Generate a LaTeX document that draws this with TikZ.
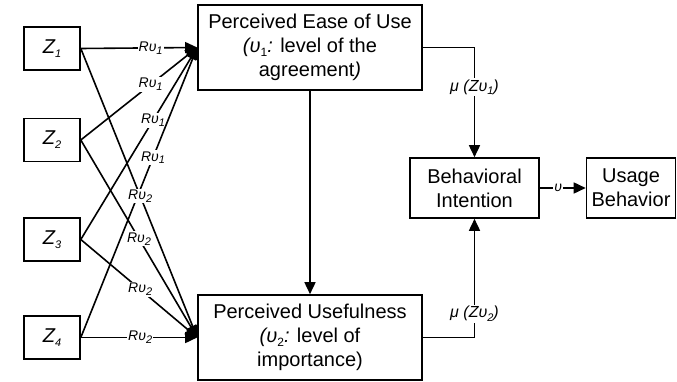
\documentclass[tikz,border=0pt]{standalone}
\usepackage{fontspec}
\setmainfont{Liberation Sans}
\usetikzlibrary{arrows.meta}
\newcommand\mysub[1]{\raisebox{-0.4ex}{\fontsize{11}{11}\selectfont #1}}
\newcommand\boxsub[1]{\raisebox{-0.4ex}{\fontsize{12}{12}\selectfont #1}}
\begin{document}
\begin{tikzpicture}[x=1pt,y=-1pt,
  box/.style={draw,line width=1.6pt,inner sep=0pt,align=center,font=\fontsize{20}{24}\selectfont},
  zbox/.style={draw,line width=1.6pt,minimum width=56pt,minimum height=43pt,inner sep=0pt,font=\fontsize{20}{20}\selectfont\itshape},
  link/.style={line width=1.6pt,-{Triangle[length=12pt,width=11pt]}},
  lab/.style={fill=white,inner sep=1pt,font=\fontsize{14}{14}\selectfont\itshape},
  mlab/.style={fill=white,inner sep=1.5pt,font=\fontsize{16}{16}\selectfont\itshape}]
\useasboundingbox (0,0) rectangle (677,382);
\fill[white] (0,0) rectangle (677,382);

% input factors
\node[zbox] (z1) at (52,48.5) {Z\mysub{1}};
\node[zbox] (z2) at (52,140) {Z\mysub{2}};
\node[zbox] (z3) at (52,239.5) {Z\mysub{3}};
\node[zbox] (z4) at (52,337.5) {Z\mysub{4}};

% constructs
\node[box,minimum width=224pt,minimum height=85pt] (peu) at (310,47.5)
  {Perceived Ease of Use\\\textit{(υ}\boxsub{1}\textit{:} level of the\\agreement\textit{)}};
\node[box,minimum width=224pt,minimum height=85pt] (pu) at (310,337.5)
  {Perceived Usefulness\\\textit{(υ}\boxsub{2}\textit{:} level of\\importance)};
\node[box,minimum width=129pt,minimum height=60pt] (bi) at (474.5,188)
  {Behavioral\\Intention};
\node[box,minimum width=89pt,minimum height=60pt] (ub) at (631,188)
  {Usage\\Behavior};

% weighted links towards perceived ease of use
\draw[link] (z1.east) -- node[lab,pos=0.6]{Rυ\mysub{1}} (peu.west);
\draw[link] (z2.east) -- node[lab,pos=0.6]{Rυ\mysub{1}} (peu.west);
\draw[link] (z3.east) -- node[lab,pos=0.62]{Rυ\mysub{1}} (peu.west);
\draw[link] (z4.east) -- node[lab,pos=0.62]{Rυ\mysub{1}} (peu.west);

% weighted links towards perceived usefulness
\draw[link] (z1.east) -- node[lab,pos=0.51]{Rυ\mysub{2}} (pu.west);
\draw[link] (z2.east) -- node[lab,pos=0.5]{Rυ\mysub{2}} (pu.west);
\draw[link] (z3.east) -- node[lab,pos=0.51]{Rυ\mysub{2}} (pu.west);
\draw[link] (z4.east) -- node[lab,pos=0.51]{Rυ\mysub{2}} (pu.west);

% between constructs
\draw[link] (peu.south) -- (pu.north);
\draw[link] (peu.east) -| node[mlab,pos=0.68]{μ (Zυ\mysub{1})} (bi.north);
\draw[link] (pu.east) -| node[mlab,pos=0.6]{μ (Zυ\mysub{2})} (bi.south);
\draw[link] (bi.east) -- node[lab,pos=0.4]{υ} (ub.west);
\end{tikzpicture}
\end{document}
